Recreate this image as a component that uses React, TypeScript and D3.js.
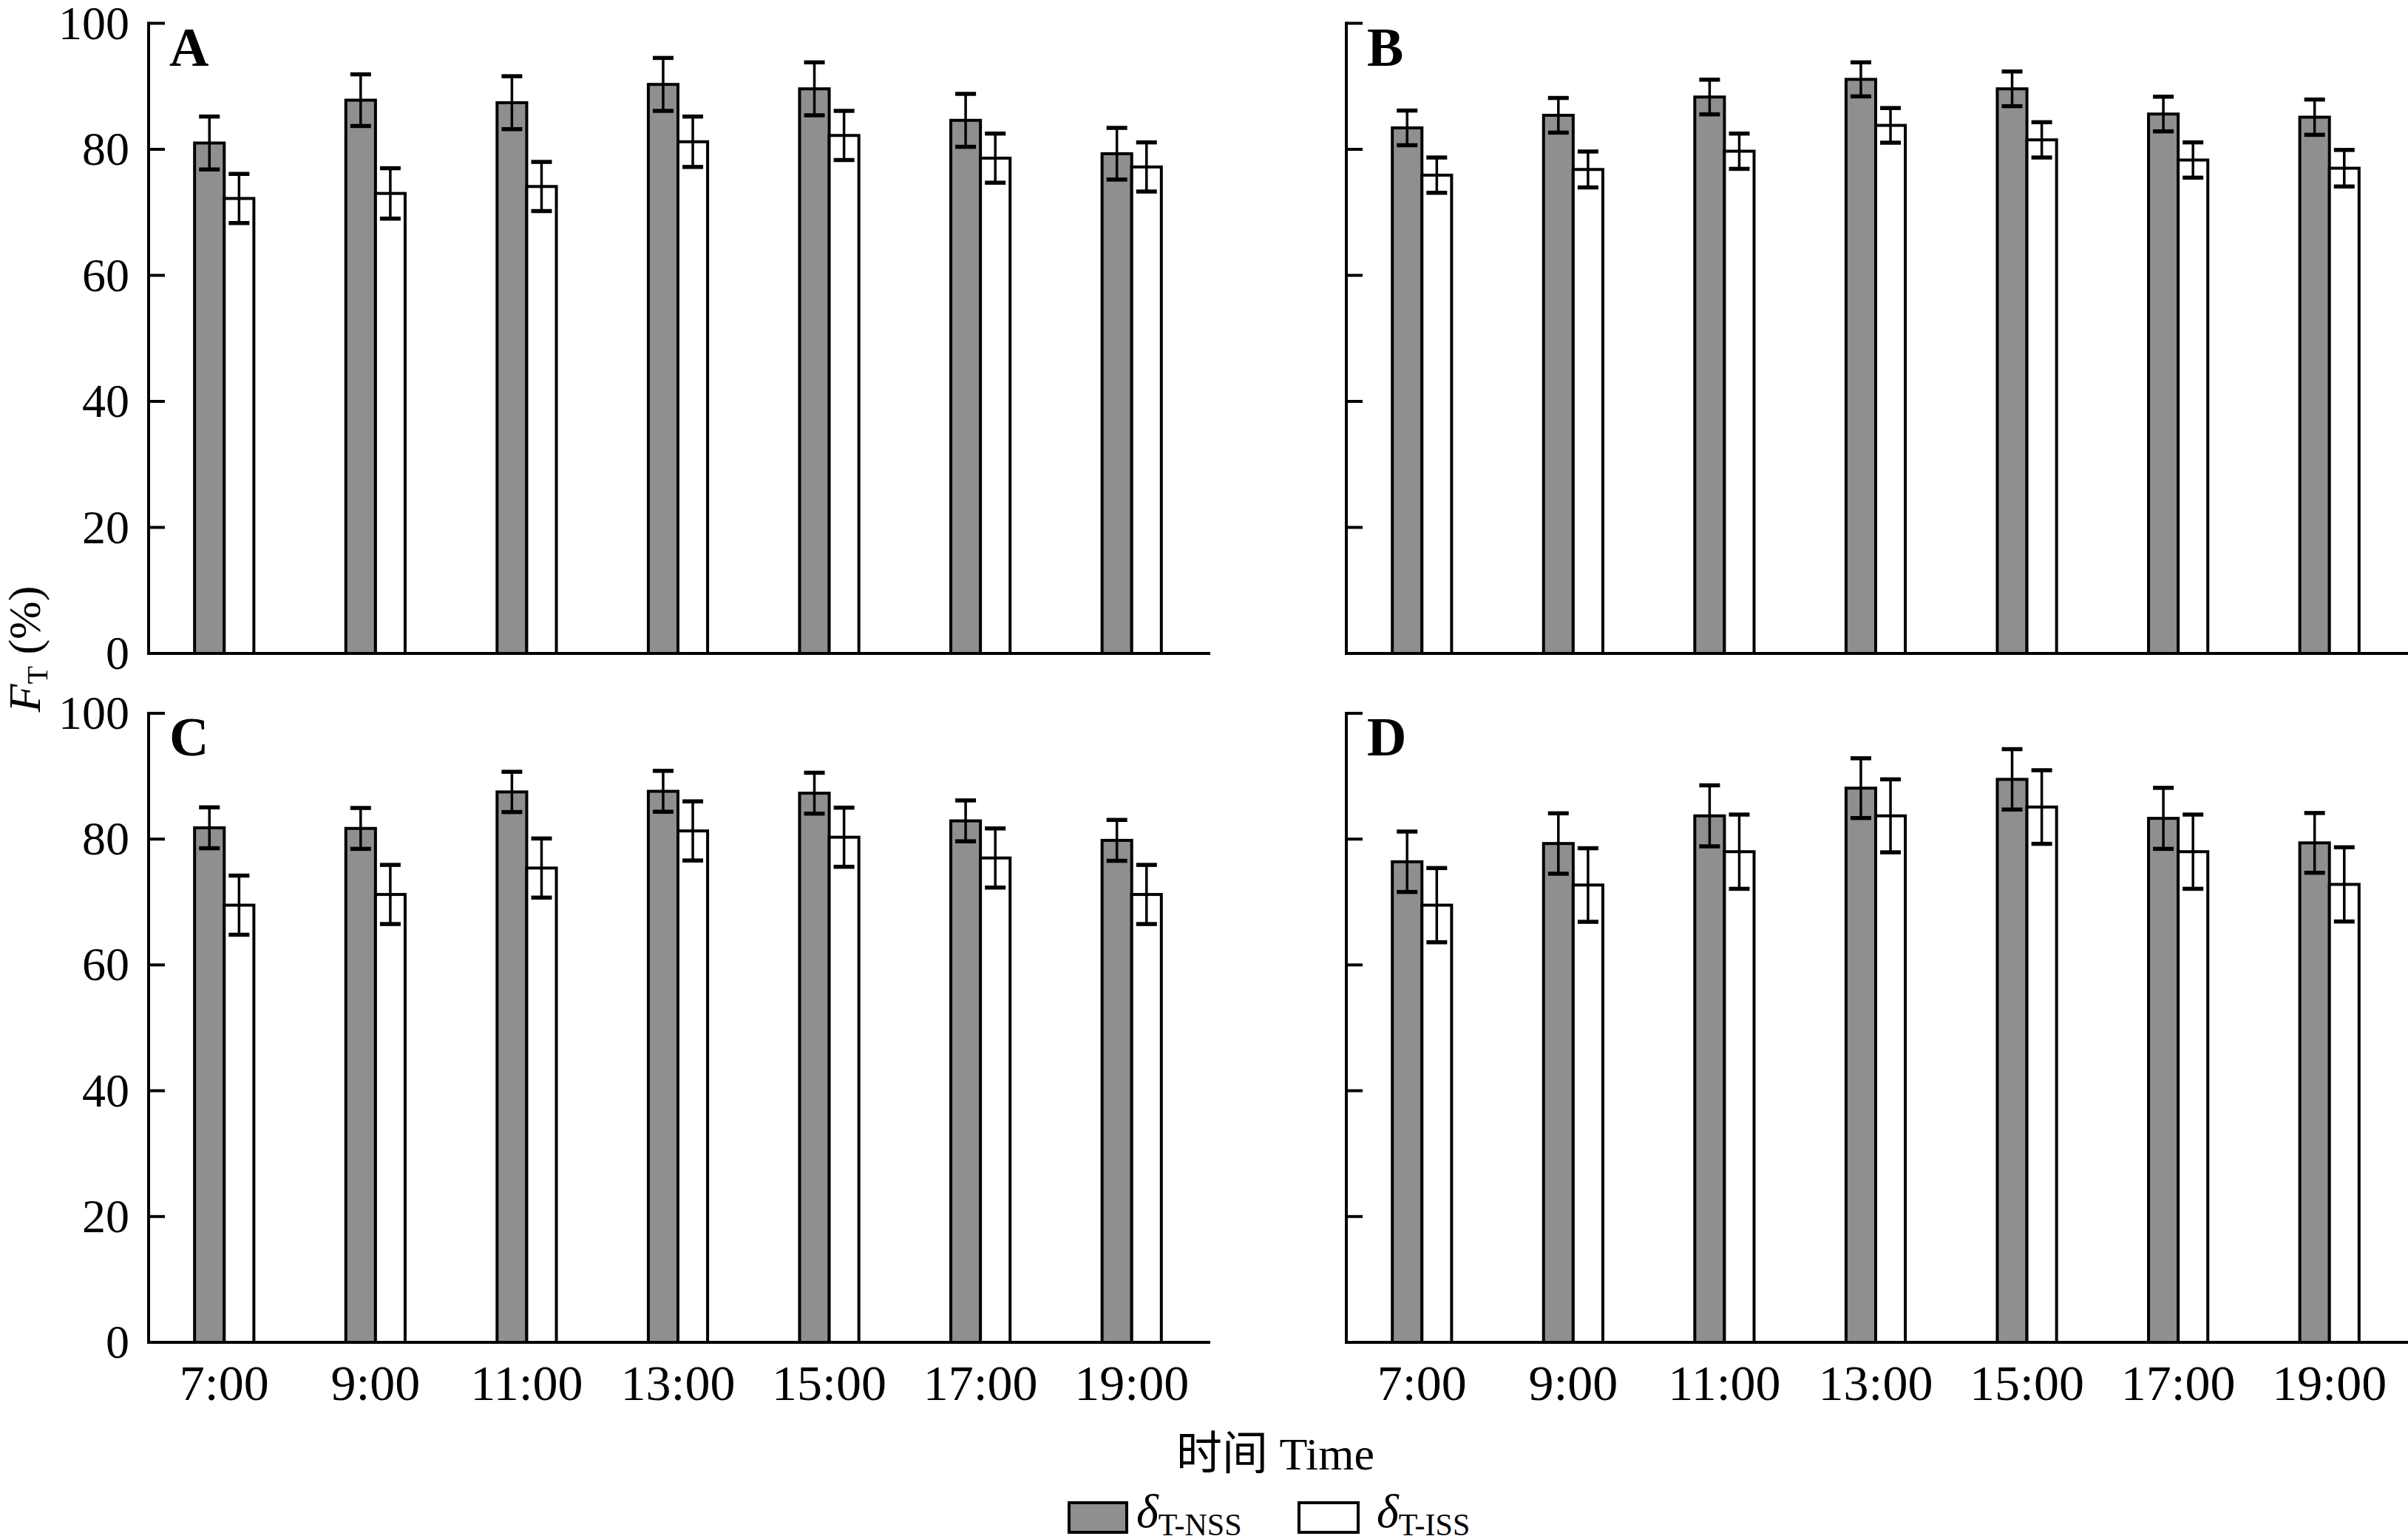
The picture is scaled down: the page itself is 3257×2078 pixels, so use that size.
import React from "react";
import * as d3 from "d3";

const times = ["7:00", "9:00", "11:00", "13:00", "15:00", "17:00", "19:00"];
const seriesKeys = ["NSS", "ISS"];
const panelLabels = ["A", "B", "C", "D"];
const yTicks = [0, 20, 40, 60, 80, 100];

const nssA = [81.0, 87.8, 87.4, 90.3, 89.6, 84.6, 79.3];
const nssAErr = [4.2, 4.1, 4.2, 4.2, 4.2, 4.2, 4.1];
const issA = [72.2, 73.0, 74.1, 81.2, 82.2, 78.6, 77.2];
const issAErr = [3.9, 4.0, 3.9, 4.0, 3.9, 3.9, 3.9];

const nssB = [83.4, 85.4, 88.3, 91.1, 89.6, 85.6, 85.1];
const nssBErr = [2.75, 2.75, 2.75, 2.7, 2.75, 2.75, 2.8];
const issB = [75.9, 76.8, 79.7, 83.8, 81.5, 78.3, 77.0];
const issBErr = [2.8, 2.85, 2.8, 2.75, 2.8, 2.8, 2.9];

const nssC = [81.8, 81.7, 87.5, 87.6, 87.3, 82.9, 79.8];
const nssCErr = [3.25, 3.25, 3.2, 3.25, 3.25, 3.25, 3.25];
const issC = [69.5, 71.2, 75.4, 81.3, 80.3, 77.0, 71.2];
const issCErr = [4.7, 4.7, 4.7, 4.7, 4.7, 4.7, 4.7];

const nssD = [76.4, 79.3, 83.7, 88.1, 89.5, 83.3, 79.4];
const nssDErr = [4.8, 4.8, 4.85, 4.75, 4.8, 4.85, 4.75];
const issD = [69.5, 72.7, 78.0, 83.7, 85.1, 78.0, 72.8];
const issDErr = [5.9, 5.85, 5.9, 5.8, 5.85, 5.9, 5.9];

const panels = [
  { label: panelLabels[0], nss: nssA, nssErr: nssAErr, iss: issA, issErr: issAErr, col: 0, row: 0 },
  { label: panelLabels[1], nss: nssB, nssErr: nssBErr, iss: issB, issErr: issBErr, col: 1, row: 0 },
  { label: panelLabels[2], nss: nssC, nssErr: nssCErr, iss: issC, issErr: issCErr, col: 0, row: 1 },
  { label: panelLabels[3], nss: nssD, nssErr: nssDErr, iss: issD, issErr: issDErr, col: 1, row: 1 },
];

const W = 3257;
const H = 2078;
const GRAY = "#8f8f8f";
const FONT = "Liberation Serif, Times New Roman, Noto Sans CJK SC, serif";

const colX = [201, 1821];
const rowY = [
  { top: 31.5, bottom: 884 },
  { top: 965, bottom: 1816 },
];
const panelW = 1432;

function Panel({ p }: { p: (typeof panels)[number] }) {
  const x0 = colX[p.col];
  const { top, bottom } = rowY[p.row];
  const y = d3.scaleLinear().domain([0, 100]).range([bottom, top]);
  const xb = d3
    .scaleBand<string>()
    .domain(times)
    .range([x0, x0 + panelW])
    .paddingInner(0.608)
    .paddingOuter(0.304);
  const xs = d3.scaleBand<string>().domain(seriesKeys).range([0, xb.bandwidth()]);
  const capW = 28;
  const showLabels = p.col === 0;
  const showX = p.row === 1;

  const bars: React.ReactNode[] = [];
  const errs: React.ReactNode[] = [];
  times.forEach((t, i) => {
    const sets = [
      { key: "NSS", v: p.nss[i], e: p.nssErr[i], fill: GRAY },
      { key: "ISS", v: p.iss[i], e: p.issErr[i], fill: "#ffffff" },
    ];
    sets.forEach((s) => {
      const bx = (xb(t) as number) + (xs(s.key) as number);
      const bw = xs.bandwidth();
      bars.push(
        <rect
          key={`b${t}${s.key}`}
          x={bx}
          y={y(s.v)}
          width={bw}
          height={y(0) - y(s.v)}
          fill={s.fill}
          stroke="#000"
          strokeWidth={4}
        />
      );
      const cx = bx + bw / 2;
      errs.push(
        <g key={`e${t}${s.key}`} stroke="#000">
          <line x1={cx} x2={cx} y1={y(s.v + s.e)} y2={y(s.v - s.e)} strokeWidth={3.5} />
          <line x1={cx - capW / 2} x2={cx + capW / 2} y1={y(s.v + s.e)} y2={y(s.v + s.e)} strokeWidth={5.5} />
          <line x1={cx - capW / 2} x2={cx + capW / 2} y1={y(s.v - s.e)} y2={y(s.v - s.e)} strokeWidth={5.5} />
        </g>
      );
    });
  });

  return (
    <g>
      {bars}
      {errs}
      <line x1={x0} x2={x0} y1={y(100) - 2} y2={y(0) + 2} stroke="#000" strokeWidth={4} />
      <line x1={x0 - 2} x2={x0 + panelW + 4} y1={y(0)} y2={y(0)} stroke="#000" strokeWidth={4} />
      {yTicks.map((t) => (
        <g key={`t${t}`}>
          <line x1={x0} x2={x0 + 22} y1={y(t)} y2={y(t)} stroke="#000" strokeWidth={4} />
          {showLabels && (
            <text
              x={x0 - 26}
              y={y(t) + 21}
              textAnchor="end"
              fontFamily={FONT}
              fontSize={64}
              fill="#000"
            >
              {t}
            </text>
          )}
        </g>
      ))}
      {showX &&
        times.map((t) => (
          <text
            key={`x${t}`}
            x={(xb(t) as number) + xb.bandwidth() / 2}
            y={bottom + 78}
            textAnchor="middle"
            fontFamily={FONT}
            fontSize={68}
            fill="#000"
          >
            {t}
          </text>
        ))}
      <text x={x0 + 28} y={top + 57} fontFamily={FONT} fontSize={74} fontWeight="bold" fill="#000">
        {p.label}
      </text>
    </g>
  );
}

export default function App() {
  return (
    <div style={{ position: "absolute", left: 0, top: 0 }}>
      <svg width={W} height={H} viewBox={`0 0 ${W} ${H}`} style={{ display: "block", background: "#fff" }}>
        <rect x={0} y={0} width={W} height={H} fill="#fff" />
        {panels.map((p) => (
          <Panel key={p.label} p={p} />
        ))}
        <text
          transform="translate(54,878) rotate(-90)"
          textAnchor="middle"
          fontFamily={FONT}
          fontSize={62}
          fill="#000"
        >
          <tspan fontStyle="italic">F</tspan>
          <tspan fontSize={40} dy={10}>T</tspan>
          <tspan dy={-10}> (%)</tspan>
        </text>
        <text x={1725} y={1988} textAnchor="middle" fontFamily={FONT} fontSize={62} fill="#000">
          时间 Time
        </text>
        <rect x={1446} y={2033} width={78} height={40} fill={GRAY} stroke="#000" strokeWidth={4} />
        <text x={1537} y={2066} fontFamily={FONT} fontSize={64} fill="#000">
          <tspan fontStyle="italic">δ</tspan>
          <tspan fontSize={42} dy={11}>T-NSS</tspan>
        </text>
        <rect x={1757} y={2033} width={80} height={40} fill="#fff" stroke="#000" strokeWidth={4} />
        <text x={1862} y={2066} fontFamily={FONT} fontSize={64} fill="#000">
          <tspan fontStyle="italic">δ</tspan>
          <tspan fontSize={42} dy={11}>T-ISS</tspan>
        </text>
      </svg>
    </div>
  );
}
